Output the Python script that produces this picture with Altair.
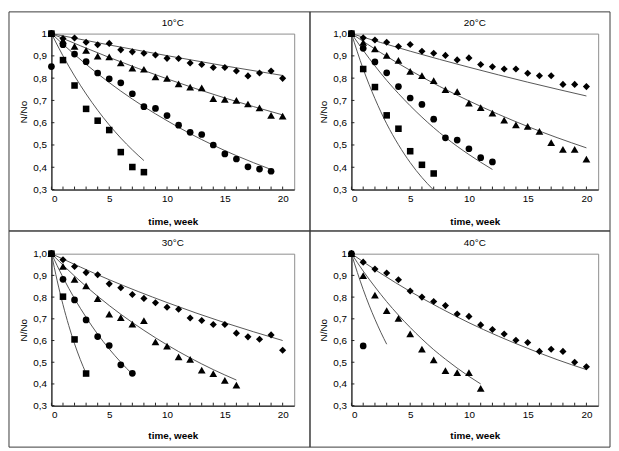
import altair as alt
import pandas as pd

FONT = "Liberation Sans"

# ---------------- data ----------------
weeks20 = list(range(0, 21))

# 10 °C
dia10_t = weeks20
dia10 = [1.0, 0.978, 0.98, 0.961, 0.95, 0.956, 0.927, 0.918, 0.912, 0.904, 0.889,
         0.888, 0.868, 0.861, 0.848, 0.848, 0.832, 0.81, 0.823, 0.832, 0.799]
tri10_t = weeks20
tri10 = [1.0, 0.97, 0.943, 0.925, 0.899, 0.895, 0.868, 0.845, 0.84, 0.806, 0.799,
         0.774, 0.76, 0.756, 0.708, 0.705, 0.70, 0.684, 0.667, 0.633, 0.63]
cir10_t = [0, 0] + list(range(1, 20))
cir10 = [1.0, 0.852, 0.95, 0.908, 0.874, 0.823, 0.797, 0.779, 0.73, 0.672, 0.664,
         0.632, 0.589, 0.557, 0.547, 0.50, 0.46, 0.437, 0.402, 0.392, 0.382]
sq10_t = list(range(0, 9))
sq10 = [1.0, 0.881, 0.767, 0.662, 0.609, 0.567, 0.468, 0.401, 0.378]

# 20 °C
dia20_t = weeks20
dia20 = [1.0, 0.981, 0.971, 0.961, 0.942, 0.951, 0.921, 0.912, 0.902, 0.882, 0.891,
         0.861, 0.851, 0.841, 0.841, 0.822, 0.811, 0.811, 0.772, 0.772, 0.762]
tri20_t = weeks20
tri20 = [1.0, 0.96, 0.931, 0.902, 0.88, 0.83, 0.811, 0.789, 0.749, 0.74, 0.688,
         0.668, 0.643, 0.612, 0.59, 0.583, 0.561, 0.511, 0.48, 0.48, 0.437]
cir20_t = list(range(0, 13))
cir20 = [1.0, 0.934, 0.873, 0.824, 0.762, 0.711, 0.682, 0.616, 0.532, 0.522, 0.483, 0.443, 0.424]
sq20_t = list(range(0, 8))
sq20 = [1.0, 0.841, 0.76, 0.633, 0.573, 0.472, 0.411, 0.372]

# 30 °C
dia30_t = weeks20
dia30 = [1.0, 0.972, 0.941, 0.913, 0.903, 0.861, 0.843, 0.812, 0.794, 0.774, 0.753,
         0.744, 0.704, 0.692, 0.674, 0.674, 0.634, 0.617, 0.606, 0.626, 0.555]
tri30_t = list(range(0, 17))
tri30 = [1.0, 0.941, 0.882, 0.852, 0.793, 0.722, 0.705, 0.676, 0.692, 0.594, 0.574,
         0.525, 0.513, 0.464, 0.448, 0.417, 0.395]
cir30_t = list(range(0, 8))
cir30 = [1.0, 0.882, 0.787, 0.695, 0.618, 0.577, 0.488, 0.449]
sq30_t = [0, 1, 2, 3]
sq30 = [1.0, 0.802, 0.605, 0.448]

# 40 °C
dia40_t = weeks20
dia40 = [1.0, 0.961, 0.929, 0.911, 0.88, 0.828, 0.80, 0.78, 0.761, 0.722, 0.711,
         0.672, 0.651, 0.63, 0.601, 0.591, 0.55, 0.56, 0.55, 0.50, 0.479]
tri40_t = list(range(0, 12))
tri40 = [1.0, 0.899, 0.809, 0.738, 0.702, 0.631, 0.56, 0.511, 0.461, 0.452, 0.452, 0.38]
cir40_t = [0, 1]
cir40 = [1.0, 0.575]

# fitted curves
ldia10_t = [0, 5, 10, 15, 20];                     ldia10 = [1.0, 0.949, 0.901, 0.855, 0.812]
ltri10_t = [0, 5, 10, 15, 20];                     ltri10 = [1.0, 0.893, 0.797, 0.711, 0.635]
lcir10_t = [0, 2, 4, 6, 8, 10, 12, 14, 16, 19];    lcir10 = [1.0, 0.906, 0.82, 0.742, 0.672, 0.609, 0.551, 0.499, 0.452, 0.39]
lsq10_t = [0, 1, 2, 3, 4, 5, 6, 7, 8];             lsq10 = [1.0, 0.90, 0.81, 0.729, 0.656, 0.59, 0.531, 0.478, 0.43]

ldia20_t = [0, 5, 10, 15, 20];                     ldia20 = [1.0, 0.921, 0.849, 0.782, 0.72]
ltri20_t = [0, 2.5, 5, 7.5, 10, 12.5, 15, 17.5, 20]; ltri20 = [1.0, 0.914, 0.835, 0.763, 0.698, 0.638, 0.583, 0.533, 0.487]
lcir20_t = [0, 1, 2, 3, 4, 6, 8, 10, 12];          lcir20 = [1.0, 0.925, 0.855, 0.79, 0.731, 0.625, 0.534, 0.457, 0.39]
lsq20_t = [0, 1, 2, 3, 4, 5, 6, 6.95];             lsq20 = [1.0, 0.841, 0.708, 0.595, 0.501, 0.421, 0.354, 0.30]

ldia30_t = [0, 5, 10, 15, 20];                     ldia30 = [1.0, 0.88, 0.775, 0.682, 0.60]
ltri30_t = [0, 2, 4, 6, 8, 10, 12, 14, 16];        ltri30 = [1.0, 0.897, 0.804, 0.721, 0.647, 0.58, 0.52, 0.466, 0.418]
lcir30_t = [0, 1, 2, 3, 4, 5, 6, 7];               lcir30 = [1.0, 0.891, 0.793, 0.707, 0.629, 0.561, 0.50, 0.445]
lsq30_t = [0, 0.5, 1, 1.5, 2, 2.5, 3];             lsq30 = [1.0, 0.875, 0.765, 0.669, 0.585, 0.512, 0.448]

ldia40_t = [0, 2.5, 5, 7.5, 10, 12.5, 15, 17.5, 20]; ldia40 = [1.0, 0.909, 0.826, 0.751, 0.682, 0.62, 0.564, 0.512, 0.466]
ltri40_t = list(range(0, 12));                     ltri40 = [1.0, 0.92, 0.847, 0.779, 0.717, 0.66, 0.607, 0.558, 0.514, 0.473, 0.435, 0.40]
lcir40_t = [0, 0.5, 1, 1.5, 2, 2.5, 3];            lcir40 = [1.0, 0.914, 0.835, 0.763, 0.698, 0.638, 0.583]

x_tick_values = list(range(0, 21))
x_label_values = [0, 5, 10, 15, 20]
y_tick_values = [0.3, 0.4, 0.5, 0.6, 0.7, 0.8, 0.9, 1.0]

SHAPES = {"dia": ("diamond", 52), "tri": ("triangle-up", 62), "cir": ("circle", 46), "sq": ("square", 44)}


def frame_of(pairs):
    rows = []
    for name, ts, vs in pairs:
        for t, v in zip(ts, vs):
            rows.append({"s": name, "t": t, "v": v})
    return pd.DataFrame(rows)


def panel(title, points, lines, w, h, top_one, fr, tpad):
    if top_one:
        lab = "datum.value >= 0.999 ? '1' : replace(format(datum.value, '.1f'), '.', ',')"
    else:
        lab = "replace(format(datum.value, '.1f'), '.', ',')"
    X = alt.X("t:Q", scale=alt.Scale(domain=[0, 21], nice=False, zero=False),
              axis=alt.Axis(values=x_label_values, title="time, week", ticks=False,
                            labelPadding=4, titlePadding=tpad, titleFontWeight="bold",
                            grid=False))
    Y = alt.Y("v:Q", scale=alt.Scale(domain=[0.3, 1.0], nice=False, zero=False),
              axis=alt.Axis(values=y_tick_values, title="N/No", ticks=False, labelExpr=lab,
                            labelPadding=5, titlePadding=4, titleFontWeight="normal",
                            grid=False))
    one = alt.Data(values=[{"k": 1}])
    layers = []
    # panel frame
    layers.append(
        alt.Chart(one).mark_rect(
            fill="white", fillOpacity=0, stroke="#3a3a3a", strokeWidth=1
        ).encode(x=alt.value(fr[0]), x2=alt.value(fr[1]), y=alt.value(fr[2]), y2=alt.value(fr[3]))
    )
    # panel title
    layers.append(
        alt.Chart(one).mark_text(text=title, font=FONT, fontSize=10, color="black",
                                 align="center", baseline="middle")
        .encode(x=alt.value(w / 2), y=alt.value(-11))
    )
    xt = pd.DataFrame({"t": x_tick_values})
    layers.append(alt.Chart(xt).mark_rule(color="#222", strokeWidth=1).encode(
        x=X, y=alt.value(h), y2=alt.value(h - 3)))
    yt = pd.DataFrame({"v": y_tick_values})
    layers.append(alt.Chart(yt).mark_rule(color="#222", strokeWidth=1).encode(
        y=Y, x=alt.value(0), x2=alt.value(3)))
    ldf = frame_of(lines)
    layers.append(alt.Chart(ldf).mark_line(color="#555555", strokeWidth=1, interpolate="monotone").encode(
        x=X, y=Y, detail="s:N"))
    pdf = frame_of(points)
    for key, (shape, size) in SHAPES.items():
        sub = pdf[pdf["s"] == key]
        if len(sub) == 0:
            continue
        layers.append(alt.Chart(sub).mark_point(shape=shape, size=size, filled=True,
                                                color="black", opacity=1).encode(x=X, y=Y))
    return alt.layer(*layers).properties(width=w, height=h)


p10 = panel("10°C",
            [("dia", dia10_t, dia10), ("tri", tri10_t, tri10), ("cir", cir10_t, cir10), ("sq", sq10_t, sq10)],
            [("dia", ldia10_t, ldia10), ("tri", ltri10_t, ltri10), ("cir", lcir10_t, lcir10), ("sq", lsq10_t, lsq10)],
            246, 158, True, (-43, 262, -22, 200), 13)
p20 = panel("20°C",
            [("dia", dia20_t, dia20), ("tri", tri20_t, tri20), ("cir", cir20_t, cir20), ("sq", sq20_t, sq20)],
            [("dia", ldia20_t, ldia20), ("tri", ltri20_t, ltri20), ("cir", lcir20_t, lcir20), ("sq", lsq20_t, lsq20)],
            250, 158, False, (-42, 262, -22, 200), 13)
p30 = panel("30°C",
            [("dia", dia30_t, dia30), ("tri", tri30_t, tri30), ("cir", cir30_t, cir30), ("sq", sq30_t, sq30)],
            [("dia", ldia30_t, ldia30), ("tri", ltri30_t, ltri30), ("cir", lcir30_t, lcir30), ("sq", lsq30_t, lsq30)],
            246, 154, False, (-43, 262, -23, 196), 11)
p40 = panel("40°C",
            [("dia", dia40_t, dia40), ("tri", tri40_t, tri40), ("cir", cir40_t, cir40)],
            [("dia", ldia40_t, ldia40), ("tri", ltri40_t, ltri40), ("cir", lcir40_t, lcir40)],
            250, 154, True, (-42, 262, -23, 196), 11)

chart = alt.concat(
    p10, p20, p30, p40, columns=2, spacing={"row": 65, "column": 58}, bounds="flush"
).properties(
    padding=0, background="white"
).configure_view(
    stroke="#8c8c8c", strokeWidth=1
).configure_axis(
    labelFont=FONT, titleFont=FONT, labelFontSize=10, titleFontSize=10,
    labelColor="black", titleColor="black", domainColor="black", domainWidth=1
)

chart.save("out.html", embed_options={"renderer": "svg", "actions": False})
